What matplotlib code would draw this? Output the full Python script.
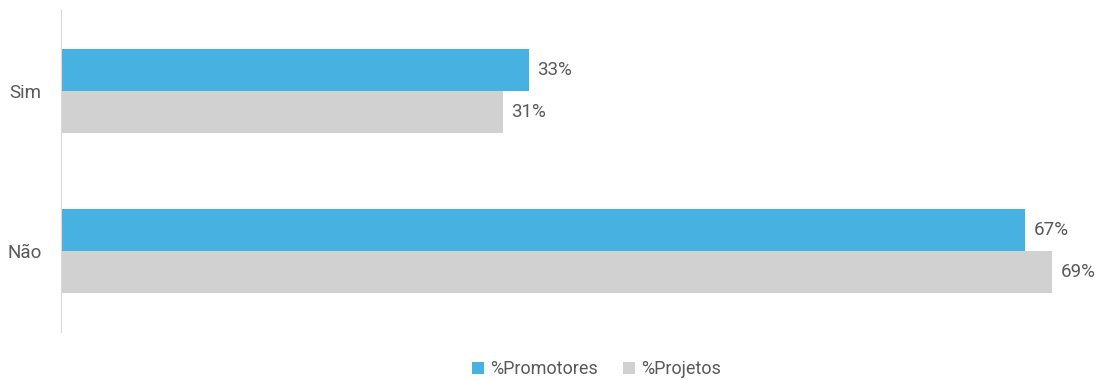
import matplotlib.pyplot as plt
import numpy as np

plt.rcParams['font.family'] = ['Roboto', 'DejaVu Sans']

categories = ['Não', 'Sim']
promotores = [0.672, 0.326]
projetos = [0.691, 0.308]
series_names = ['%Promotores', '%Projetos']
colors = ['#47B1E1', '#D1D1D1']

fig = plt.figure(figsize=(10.99, 3.8), dpi=100)
ax = fig.add_axes([61 / 1099, 48 / 380, 1 - 61 / 1099, 322 / 380])

y = np.arange(len(categories))
h = 0.2625
b1 = ax.barh(y + h / 2, promotores, height=h, color=colors[0], label=series_names[0])
b2 = ax.barh(y - h / 2, projetos, height=h, color=colors[1], label=series_names[1])

for bars, vals in ((b1, promotores), (b2, projetos)):
    for bar, v in zip(bars, vals):
        ax.text(v + 0.006, bar.get_y() + bar.get_height() / 2, f"{v:.0%}",
                va='center', ha='left', fontsize=13.5, color='#595959')

ax.set_xlim(0, 0.7236)
ax.set_ylim(-0.505, 1.505)
ax.set_yticks(y)
ax.set_yticklabels(categories, fontsize=13.5, color='#595959')
ax.tick_params(axis='y', length=0, pad=14)
ax.set_xticks([])
for s in ('top', 'right', 'bottom'):
    ax.spines[s].set_visible(False)
ax.spines['left'].set_color('#D9D9D9')

fig.legend(handles=[b1, b2], labels=series_names, loc='center', bbox_to_anchor=(0.543, 11 / 380),
           ncol=2, frameon=False, fontsize=13, labelcolor='#595959',
           handlelength=0.65, handleheight=0.65, handletextpad=0.35, columnspacing=1.4)

fig.savefig('out.png', dpi=100)
